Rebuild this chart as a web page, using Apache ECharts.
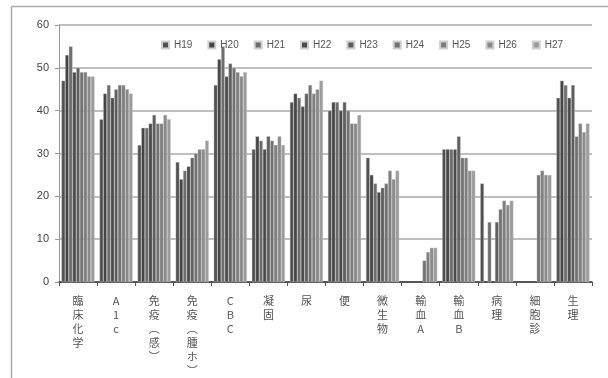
<!DOCTYPE html>
<html><head><meta charset="utf-8">
<style>html,body{margin:0;padding:0;background:#fff;}#c{width:608px;height:378px;}</style>
<script src="https://cdn.jsdelivr.net/npm/echarts@6/dist/echarts.min.js"></script>
</head><body><div id="c"></div>
<script>
const categories = ['臨床化学','A1c','免疫(感)','免疫(腫ホ)','CBC','凝固','尿','便','微生物','輸血A','輸血B','病理','細胞診','生理'];
const categoryLabels = ['臨\n床\n化\n学','A\n1\nc','免\n疫\n︵\n感\n︶','免\n疫\n︵\n腫\nホ\n︶','C\nB\nC','凝\n固','尿','便','微\n生\n物','輸\n血\nA','輸\n血\nB','病\n理','細\n胞\n診','生\n理'];
const seriesNames = ['H19','H20','H21','H22','H23','H24','H25','H26','H27'];
const H19 = [47,38,32,28,46,31,42,40,29,null,31,23,null,43];
const H20 = [53,44,36,24,52,34,44,42,25,null,31,null,null,47];
const H21 = [55,46,36,26,55,33,43,42,23,null,31,14,null,46];
const H22 = [49,43,37,27,48,31,41,40,21,null,31,null,null,43];
const H23 = [50,45,39,29,51,34,44,42,22,null,34,14,null,46];
const H24 = [49,46,37,30,50,33,46,40,23,5,29,17,25,34];
const H25 = [49,46,37,31,49,32,44,37,26,7,29,19,26,37];
const H26 = [48,45,39,31,48,34,45,37,24,8,26,18,25,35];
const H27 = [48,44,38,33,49,32,47,39,26,8,26,19,25,37];
const yTicks = {min:0, max:60, interval:10};
const seriesData = [H19,H20,H21,H22,H23,H24,H25,H26,H27];
const colors = ['#505050','#454545','#6c6c6c','#4a4a4a','#5e5e5e','#727272','#7e7e7e','#8a8a8a','#9c9c9c'];

const chart = echarts.init(document.getElementById('c'), null, {renderer:'canvas'});
chart.setOption({
  animation:false,
  backgroundColor:'#fff',
  textStyle:{fontFamily:'"Liberation Sans","Noto Sans CJK JP",sans-serif'},
  graphic:[
    {type:'line', shape:{x1:11.5,y1:6.5,x2:608,y2:6.5}, style:{stroke:'#aaa',lineWidth:1.5}},
    {type:'line', shape:{x1:11.5,y1:6.5,x2:11.5,y2:378}, style:{stroke:'#aaa',lineWidth:1.5}}
  ],
  legend:{
    top:35, left:156, itemWidth:7, itemHeight:7, itemGap:15, icon:'rect',
    textStyle:{fontSize:10, color:'#555'},
    data:seriesNames
  },
  grid:{left:59, right:16, top:25, bottom:96},
  xAxis:{
    type:'category', data:categoryLabels,
    axisLine:{lineStyle:{color:'#333', width:1.5}},
    axisTick:{show:true, length:4, lineStyle:{color:'#555'}},
    axisLabel:{interval:0, fontSize:11, lineHeight:14, color:'#555', margin:12, verticalAlign:'top',
      fontFamily:'"Noto Sans CJK JP",sans-serif'}
  },
  yAxis:{
    type:'value', min:yTicks.min, max:yTicks.max, interval:yTicks.interval,
    axisLine:{show:true, lineStyle:{color:'#999'}},
    axisTick:{show:true, length:4, lineStyle:{color:'#999'}},
    axisLabel:{fontSize:11, color:'#444', margin:10},
    splitLine:{lineStyle:{color:'#aaa', width:1.5}}
  },
  series: seriesNames.map((n,i)=>({
    name:n, type:'bar', data:seriesData[i],
    barGap:'0%', barCategoryGap:'13%',
    itemStyle:{color:colors[i], borderColor:'#cfcfcf', borderWidth:0.4}
  }))
});
</script></body></html>
